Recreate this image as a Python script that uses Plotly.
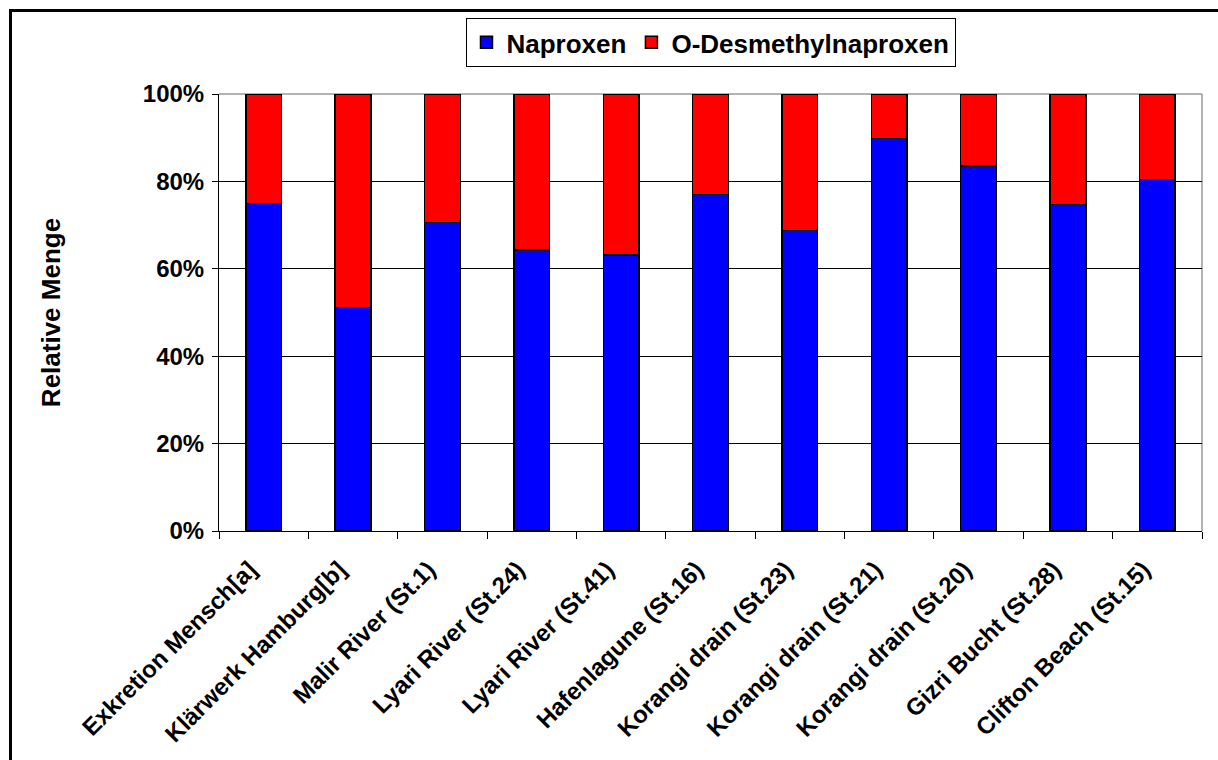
import plotly.graph_objects as go

# Sampling sites / sources (x categories)
sites = [
    "Exkretion Mensch[a]",
    "Klärwerk Hamburg[b]",
    "Malir River (St.1)",
    "Lyari River (St.24)",
    "Lyari River (St.41)",
    "Hafenlagune (St.16)",
    "Korangi drain (St.23)",
    "Korangi drain (St.21)",
    "Korangi drain (St.20)",
    "Gizri Bucht (St.28)",
    "Clifton Beach (St.15)",
]

# Relative share in percent
naproxen = [75.0, 51.1, 70.6, 64.3, 63.2, 77.0, 68.8, 89.8, 83.5, 74.7, 80.4]
desmethylnaproxen = [25.0, 48.9, 29.4, 35.7, 36.8, 23.0, 31.2, 10.2, 16.5, 25.3, 19.6]

y_ticks = [0, 20, 40, 60, 80, 100]
y_ticktext = ["0%", "20%", "40%", "60%", "80%", "100%"]

FONT = "Liberation Sans, Arial, sans-serif"

fig = go.Figure()
fig.add_trace(go.Bar(
    x=sites, y=naproxen, name="Naproxen",
    marker=dict(color="#0000FF", line=dict(color="#000000", width=1.5)),
    width=0.4,
))
fig.add_trace(go.Bar(
    x=sites, y=desmethylnaproxen, name="O-Desmethylnaproxen",
    marker=dict(color="#FF0000", line=dict(color="#000000", width=1.5)),
    width=0.4,
))

fig.update_layout(
    width=1218, height=760,
    margin=dict(l=219, r=16, t=94, b=229, autoexpand=False),
    paper_bgcolor="white", plot_bgcolor="white",
    barmode="stack",
    bargap=0.6,
    font=dict(family=FONT, color="#000000"),
    showlegend=True,
    legend=dict(
        orientation="h",
        x=0.5, xanchor="center",
        y=1.174, yanchor="top",
        bgcolor="white",
        bordercolor="#000000", borderwidth=1,
        font=dict(family=FONT, size=26, weight="bold", color="#000000"),
        traceorder="normal",
        itemwidth=30,
    ),
    xaxis=dict(
        type="category",
        tickangle=-45,
        tickson="boundaries",
        ticks="outside", ticklen=7, tickcolor="#000000", tickwidth=1,
        ticklabelstandoff=14,
        ticklabelshift=-14,
        showline=True, linecolor="#000000", linewidth=1,
        showgrid=False,
        tickfont=dict(family=FONT, size=24, weight="bold", color="#000000"),
        automargin=False,
    ),
    yaxis=dict(
        range=[0, 100],
        tickvals=y_ticks, ticktext=y_ticktext,
        ticks="outside", ticklen=6, tickcolor="#000000", tickwidth=1,
        ticklabelstandoff=3,
        showline=True, linecolor="#000000", linewidth=1,
        showgrid=True, gridcolor="#000000", gridwidth=1,
        zeroline=False,
        tickfont=dict(family=FONT, size=24, weight="bold", color="#000000"),
        title=dict(text="Relative Menge", standoff=74,
                   font=dict(family=FONT, size=26, weight="bold", color="#000000")),
        automargin=False,
    ),
    shapes=[
        # gray plot-area border along the top and right
        dict(type="line", xref="paper", yref="paper", x0=0, x1=1, y0=1, y1=1,
             line=dict(color="#9a9a9a", width=1.5), layer="between"),
        dict(type="line", xref="paper", yref="paper", x0=1, x1=1, y0=0, y1=1,
             line=dict(color="#9a9a9a", width=1.5), layer="between"),
        # outer chart frame
        dict(type="rect", xref="paper", yref="paper",
             x0=-0.2121, x1=1.2, y0=-1.0, y1=1.191,
             line=dict(color="#000000", width=3), fillcolor="rgba(0,0,0,0)",
             layer="above"),
    ],
)

fig.write_html("out.html")
